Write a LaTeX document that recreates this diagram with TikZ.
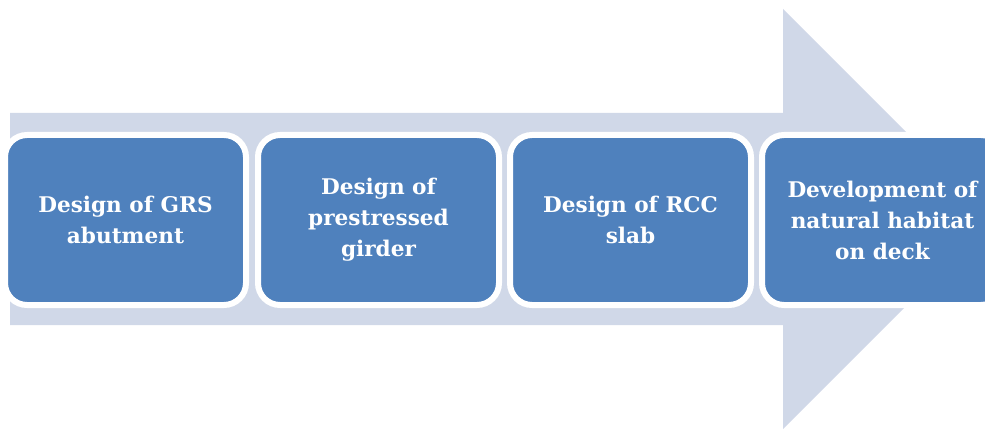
\documentclass[tikz,border=0pt]{standalone}
\usepackage{fontspec}
\setmainfont{DejaVu Serif}
\definecolor{arrowfill}{HTML}{D0D8E8}
\definecolor{boxfill}{HTML}{4F81BD}
\tikzset{
  stagebox/.style={draw=white, line width=6pt, fill=boxfill, rounded corners=22pt,
    minimum width=241pt, minimum height=170pt, inner sep=0pt,
    text=white, align=center,
    font=\fontsize{21.6}{31}\selectfont\bfseries}
}
\begin{document}
\begin{tikzpicture}[x=1pt,y=1pt]
  \useasboundingbox (0,0) rectangle (985,429);
  \clip (0,0) rectangle (985,429);
  % broad process arrow behind the stages
  \fill[arrowfill] (10,104) -- (783,104) -- (783,0) -- (993,210) -- (783,420)
    -- (783,316) -- (10,316) -- cycle;
  % stages
  \node[stagebox] (b1) at (125.5,209) {Design of GRS\\abutment};
  \node[stagebox] (b2) at (378.5,209) {Design of\\prestressed\\girder};
  \node[stagebox] (b3) at (630.5,209) {Design of RCC\\slab};
  \node[stagebox] (b4) at (882.5,209) {Development of\\natural habitat\\on deck};
\end{tikzpicture}
\end{document}
